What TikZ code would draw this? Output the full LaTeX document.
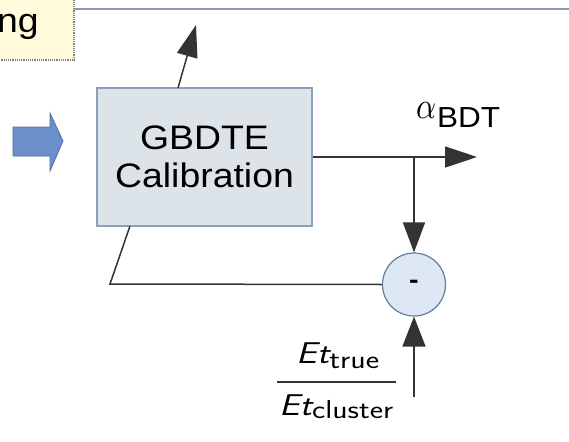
\RequirePackage{fix-cm}
\documentclass[tikz,border=0pt]{standalone}
\usepackage{fontspec}
\setmainfont{Liberation Sans}[FakeStretch=1.1]
\newfontfamily\fracfont{Latin Modern Sans}
\usetikzlibrary{arrows.meta}
\definecolor{boxfill}{HTML}{DCE4EA}
\definecolor{boxdraw}{HTML}{8CA0BC}
\definecolor{circfill}{HTML}{DDE8F4}
\definecolor{circdraw}{HTML}{5F7D9C}
\definecolor{bluearrow}{HTML}{6A8FCB}
\definecolor{bluearrowd}{HTML}{4F6FA0}
\definecolor{notefill}{HTML}{FFFBDA}
\definecolor{topline}{HTML}{8A97AE}
\definecolor{wire}{HTML}{333333}
\tikzset{
  wireline/.style={draw=wire, line width=1.5pt},
  bigtip/.style={-{Triangle[length=32pt,width=21pt]}},
  fractext/.style={anchor=base west, inner sep=0pt},
}
\begin{document}
\begin{tikzpicture}[x=1pt,y=-1pt]
\useasboundingbox (0,0) rectangle (569,441);
% note box (cut off)
\fill[notefill] (-5,-5) rectangle (74,60);
\draw[gray, densely dotted, line width=1.2pt] (74,-5) -- (74,60) -- (-5,60);
\node[anchor=base east, inner sep=0pt, font=\fontsize{34}{38}\selectfont] (note) at (39,33) {ing};
% top line
\coordinate (tl) at (74,9);
\coordinate (tr) at (575,9);
\draw[topline, line width=2.2pt] (tl) -- (tr);
% block arrow
\fill[bluearrow, draw=bluearrowd, line width=0.8pt]
  (13,127) -- (50,127) -- (50,113) -- (63,141) -- (50,171) -- (50,156) -- (13,156) -- cycle;
% main box
\node[draw=boxdraw, fill=boxfill, line width=1.3pt, minimum width=215pt, minimum height=138pt,
      inner sep=0pt, align=center, font=\fontsize{34}{40}\selectfont] (box) at (204.5,157)
      {GBDTE\\[-2pt]Calibration};
% up arrow
\coordinate (upend) at (196,25);
\draw[wireline, bigtip] (178,88) -- (upend);
% output
\coordinate (junc) at (414,157);
\coordinate (outend) at (477,157);
\node[anchor=base west, inner sep=0pt] (alpha) at (416,118)
  {\resizebox{20pt}{16pt}{$\alpha$}\hspace{1pt}\raisebox{-9pt}{\resizebox{63pt}{\height}{\fontsize{29}{31}\selectfont BDT}}};
\draw[wireline, bigtip] (box.east |- junc) -- (outend);
% circle
\node[circle, draw=circdraw, fill=circfill, line width=1.2pt, minimum size=63pt, inner sep=0pt,
      font=\fontsize{26}{28}\selectfont\bfseries] (sum) at (414,284.5) {-};
\draw[wireline, -{Triangle[length=30pt,width=22pt]}] (junc) -- (sum.north);
% feedback
\coordinate (fbl) at (110,284);
\coordinate (fbt) at (130,226);
\draw[wireline] (sum.west) -- (fbl) -- (fbt);
% input fraction
\coordinate (inb) at (414,397);
\draw[wireline, -{Triangle[length=30pt,width=23pt]}] (inb) -- (sum.south);
\node[fractext] (num) at (296,363)
  {\resizebox{83pt}{\height}{\fracfont\fontsize{30}{32}\selectfont\itshape Et\upshape\raisebox{-5pt}{\fontsize{26}{28}\selectfont true}}};
\node[fractext] (den) at (279,415)
  {\resizebox{114pt}{\height}{\fracfont\fontsize{30}{32}\selectfont\itshape Et\upshape\raisebox{-3pt}{\fontsize{26}{28}\selectfont cluster}}};
\coordinate (barl) at (277,382);
\coordinate (barr) at (396,382);
\draw[wire, line width=1.6pt] (barl) -- (barr);
\end{tikzpicture}
\end{document}
